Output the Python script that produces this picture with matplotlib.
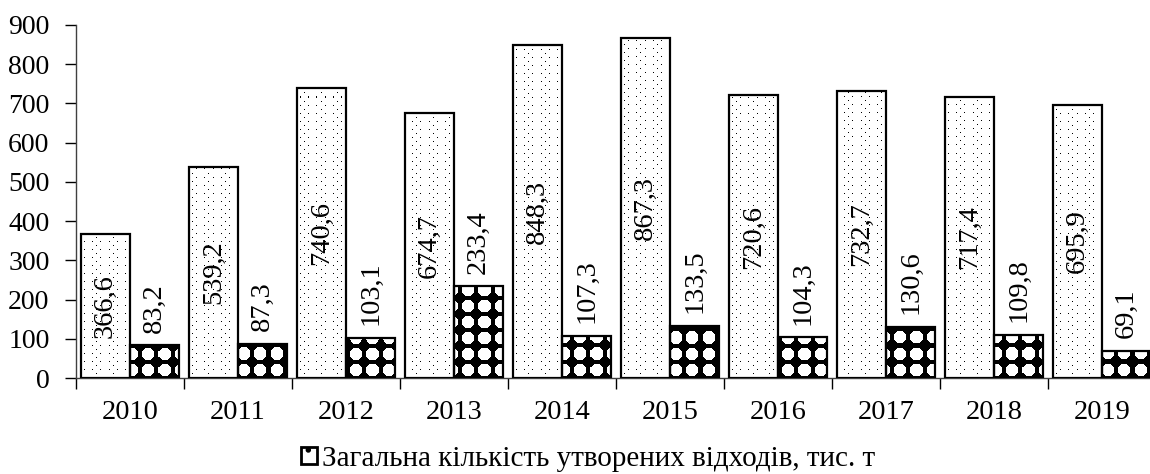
import numpy as np
import matplotlib
matplotlib.use('Agg')
from matplotlib import pyplot as plt
from matplotlib import patches as patches

years = ['2010', '2011', '2012', '2013', '2014', '2015', '2016', '2017', '2018', '2019']
total = [366.6, 539.2, 740.6, 674.7, 848.3, 867.3, 720.6, 732.7, 717.4, 695.9]
second = [83.2, 87.3, 103.1, 233.4, 107.3, 133.5, 104.3, 130.6, 109.8, 69.1]
legend_label = 'Загальна кількість утворених відходів, тис. т'

plt.rcParams['font.family'] = ['Liberation Serif', 'DejaVu Serif']
plt.rcParams['hatch.linewidth'] = 1.5


def dots_pattern(h, w):
    '''sparse staggered dots on white'''
    img = np.ones((h, w))
    for r in range(0, h, 4):
        if (r // 4) % 2 == 0:
            img[r, 0::8] = 0
        else:
            img[r, 4::16] = 0
    return img


def circles_pattern(h, w, period=16, rad=6.2):
    '''white circles on black'''
    yy, xx = np.mgrid[0:h, 0:w]
    px = (xx % period) - period / 2 + 0.5
    py = (yy % period) - period / 2 + 0.5
    return (px ** 2 + py ** 2 <= rad ** 2).astype(float)


fig = plt.figure(figsize=(11.5, 4.74), dpi=100)
ax_w, ax_h = 1080, 353
ax = fig.add_axes([76 / 1150, 96 / 474, ax_w / 1150, ax_h / 474])

x = np.arange(len(years))
w = 0.455
xlim = (-0.5, len(years) - 0.5)
ylim = (0, 900)

b1 = ax.bar(x - w / 2, total, w, facecolor='none', edgecolor='black',
            linewidth=1.6, zorder=3)
b2 = ax.bar(x + w / 2, second, w, facecolor='none', edgecolor='black',
            linewidth=1.6, zorder=3)

# fill the bars with pixel patterns clipped to each bar
pat1 = dots_pattern(ax_h, ax_w)
pat2 = circles_pattern(ax_h, ax_w)
for bars, pat in ((b1, pat1), (b2, pat2)):
    for bar in bars:
        im = ax.imshow(pat, cmap='gray', vmin=0, vmax=1, aspect='auto',
                       interpolation='nearest', origin='lower',
                       extent=(xlim[0], xlim[1], ylim[0], ylim[1]), zorder=2)
        im.set_clip_path(bar)

for xi, v in zip(x, total):
    ax.text(xi - w / 2, v / 2, f'{v:.1f}'.replace('.', ','), rotation=90,
            ha='center', va='center', fontsize=20.5, zorder=4)
for xi, v in zip(x, second):
    ax.annotate(f'{v:.1f}'.replace('.', ','), (xi + w / 2, v),
                xytext=(0, 9), textcoords='offset points', rotation=90,
                ha='center', va='bottom', fontsize=20.5, zorder=4)

ax.set_xlim(*xlim)
ax.set_ylim(*ylim)
ax.set_yticks(np.arange(0, 901, 100))
ax.set_xticks(np.arange(len(years) + 1) - 0.5)
ax.set_xticklabels([])
ax.set_xticks(x, minor=True)
ax.set_xticklabels(years, minor=True)
ax.tick_params(axis='x', which='major', direction='out', length=8, width=1)
ax.tick_params(axis='x', which='minor', length=0, pad=16, labelsize=20.5)
ax.tick_params(axis='y', direction='out', length=8, width=1, pad=11,
               labelsize=20)
for s in ('top', 'right'):
    ax.spines[s].set_visible(False)
for s in ('left', 'bottom'):
    ax.spines[s].set_linewidth(1.0)
    ax.spines[s].set_color('#404040')

handle = patches.Patch(facecolor='white', edgecolor='black', linewidth=2.0,
                       hatch='.')
fig.legend([handle], [legend_label], loc='center',
           bbox_to_anchor=(588 / 1150, 15 / 474), frameon=False, fontsize=21,
           handlelength=0.55, handleheight=0.55, handletextpad=0.2,
           borderpad=0, borderaxespad=0)

fig.savefig('out.png', dpi=100)
